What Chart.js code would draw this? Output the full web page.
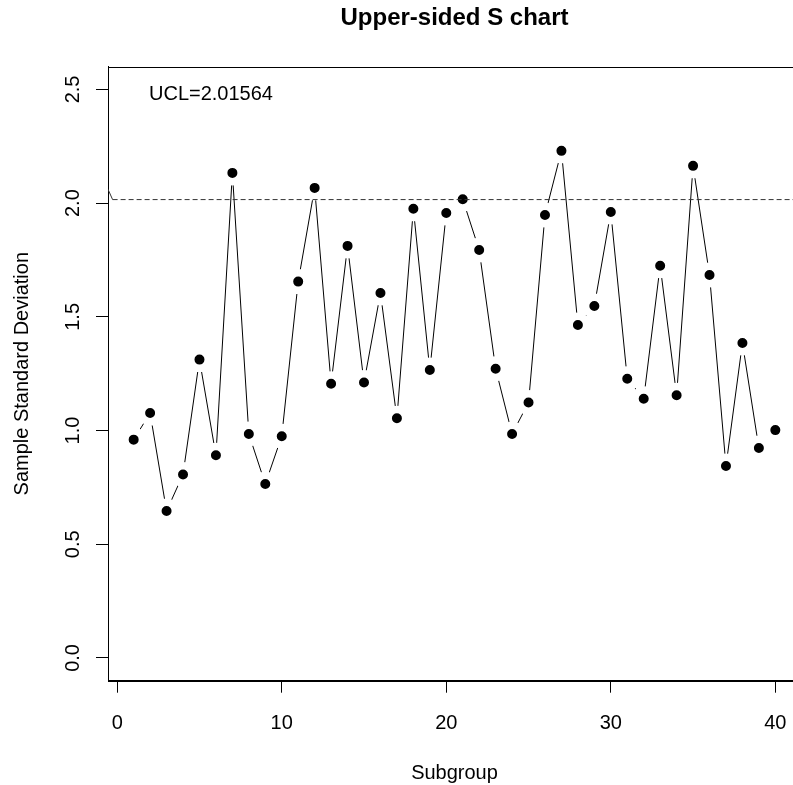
<!DOCTYPE html>
<html>
<head>
<meta charset="utf-8">
<title>Upper-sided S chart</title>
<script src="https://cdn.jsdelivr.net/npm/chart.js@4.4.1/dist/chart.umd.min.js"></script>
<style>
  html, body { margin: 0; padding: 0; background: #fff; overflow: hidden; }
  #wrap { width: 830px; height: 785px; }
</style>
</head>
<body>
<div id="wrap"><canvas id="chart" width="830" height="785"></canvas></div>
<script>
// Subgroup numbers and their sample standard deviations
const subgroups = [1, 2, 3, 4, 5, 6, 7, 8, 9, 10,
                   11, 12, 13, 14, 15, 16, 17, 18, 19, 20,
                   21, 22, 23, 24, 25, 26, 27, 28, 29, 30,
                   31, 32, 33, 34, 35, 36, 37, 38, 39, 40];
const sampleSD = [0.960, 1.077, 0.646, 0.807, 1.312, 0.891, 2.133, 0.985, 0.765, 0.975,
                  1.655, 2.067, 1.206, 1.812, 1.211, 1.605, 1.054, 1.975, 1.266, 1.957,
                  2.017, 1.794, 1.272, 0.985, 1.123, 1.948, 2.230, 1.464, 1.548, 1.961,
                  1.228, 1.140, 1.725, 1.155, 2.164, 1.684, 0.844, 1.385, 0.923, 1.002];

// Upper control limit and the polyline that marks it
const ucl = 2.01564;
const uclLineX = [-0.56, -0.28, 41.56];
const uclLineY = [2.061, ucl, ucl];
const uclLabelAt = [5.7, 2.48];

// Axis ticks and limits
const xTicks = [0, 10, 20, 30, 40];
const yTicks = [0, 0.5, 1, 1.5, 2, 2.5];
const xLimits = [-0.56, 41.56];
const yLimits = [-0.1, 2.6];

const FONT = "'Liberation Sans', Arial, Helvetica, sans-serif";
Chart.defaults.font.family = FONT;
Chart.defaults.color = '#000';

const points = subgroups.map((x, i) => ({ x: x, y: sampleSD[i] }));
const uclPoints = uclLineX.map((x, i) => ({ x: x, y: uclLineY[i] }));

// Full box around the plotting region
const frame = {
  id: 'frame',
  beforeDatasetsDraw(chart) {
    const a = chart.chartArea, ctx = chart.ctx;
    ctx.save();
    ctx.strokeStyle = '#000';
    ctx.lineWidth = 1;
    ctx.strokeRect(Math.round(a.left) + 0.5, Math.round(a.top) + 0.5,
                   Math.round(a.right - a.left), Math.round(a.bottom - a.top));
    ctx.restore();
  }
};

// Text annotation stating the control limit
const uclLabel = {
  id: 'uclLabel',
  afterDatasetsDraw(chart) {
    const ctx = chart.ctx;
    const xs = chart.scales.x, ys = chart.scales.y;
    ctx.save();
    ctx.font = '20px ' + FONT;
    ctx.fillStyle = '#000';
    ctx.textAlign = 'center';
    ctx.textBaseline = 'middle';
    ctx.fillText('UCL=' + ucl, xs.getPixelForValue(uclLabelAt[0]), ys.getPixelForValue(uclLabelAt[1]));
    ctx.restore();
  }
};

new Chart(document.getElementById('chart'), {
  type: 'line',
  data: {
    datasets: [
      {
        label: 'UCL',
        data: uclPoints,
        order: 0,
        borderColor: '#333',
        borderWidth: 1,
        borderDash: [5, 3],
        segment: { borderDash: c => (c.p0DataIndex === 0 ? [] : [5, 3]) },
        pointRadius: 0,
        fill: false,
        tension: 0
      },
      {
        label: 'S',
        data: points,
        order: 1,
        borderColor: '#000',
        borderWidth: 1,
        pointRadius: 8.75,
        pointBorderWidth: 7.5,
        pointBackgroundColor: '#000',
        pointBorderColor: '#fff',
        fill: false,
        tension: 0
      }
    ]
  },
  options: {
    responsive: false,
    devicePixelRatio: 1,
    animation: false,
    events: [],
    layout: { padding: { top: 0, left: 0, right: 29, bottom: 0 } },
    plugins: {
      legend: { display: false },
      tooltip: { enabled: false },
      title: {
        display: true,
        text: 'Upper-sided S chart',
        fullSize: false,
        color: '#000',
        font: { size: 24, weight: 'bold', family: FONT },
        padding: { top: 4.3, bottom: 33.6 }
      }
    },
    scales: {
      x: {
        type: 'linear',
        position: 'bottom',
        min: xLimits[0],
        max: xLimits[1],
        afterBuildTicks: s => { s.ticks = xTicks.map(v => ({ value: v })); },
        afterFit: s => { s.height = 104.3; },
        grid: { display: true, drawOnChartArea: false, drawTicks: true, tickLength: 12, color: '#000', lineWidth: 1 },
        border: { display: true, color: '#000', width: 1 },
        ticks: {
          color: '#000', font: { size: 20 }, padding: 19, maxRotation: 0, autoSkip: false,
          callback: v => String(v)
        },
        title: {
          display: true, text: 'Subgroup', color: '#000',
          font: { size: 20 }, padding: { top: 3.2, bottom: 0 }
        }
      },
      y: {
        type: 'linear',
        position: 'left',
        min: yLimits[0],
        max: yLimits[1],
        afterBuildTicks: s => { s.ticks = yTicks.map(v => ({ value: v })); },
        afterFit: s => { s.width = 108; },
        grid: { display: true, drawOnChartArea: false, drawTicks: true, tickLength: 12, color: '#000', lineWidth: 1 },
        border: { display: true, color: '#000', width: 1 },
        ticks: {
          color: '#000', font: { size: 20 }, padding: 9, minRotation: 90, maxRotation: 90,
          crossAlign: 'center', autoSkip: false,
          callback: v => Number(v).toFixed(1)
        },
        title: {
          display: true, text: 'Sample Standard Deviation', color: '#000',
          font: { size: 20 }, padding: { top: 10.6, bottom: 0 }
        }
      }
    }
  },
  plugins: [frame, uclLabel]
});
</script>
</body>
</html>
